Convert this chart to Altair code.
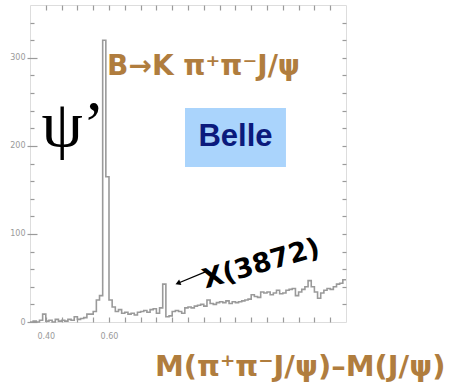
import altair as alt
import pandas as pd

# ---- data -------------------------------------------------------------
BIN_START = 0.35
BIN_WIDTH = 0.01
COUNTS = [0, 1, 0, 2, 9, 1, 2, 0, 3, 1,
          2, 1, 3, 2, 6, 3, 4, 5, 9, 9,
          12, 25, 30, 320, 165, 25, 17, 12, 14, 10,
          11, 9, 10, 8, 11, 12, 13, 11, 14, 15,
          10, 16, 43, 6, 7, 12, 13, 12, 10, 16,
          17, 16, 18, 19, 20, 18, 25, 21, 20, 22,
          23, 22, 24, 21, 23, 22, 23, 24, 25, 26,
          31, 29, 28, 34, 33, 34, 31, 33, 36, 32,
          33, 36, 37, 38, 30, 34, 37, 40, 47, 40,
          34, 27, 33, 36, 38, 37, 40, 43, 44, 48]

X_DOMAIN = [0.35, 1.35]
Y_DOMAIN = [0, 360]
X_TICKS = [0.40, 0.45, 0.50, 0.55, 0.60, 0.65, 0.70, 0.75, 0.80, 0.85,
           0.90, 0.95, 1.00, 1.05, 1.10, 1.15, 1.20, 1.25, 1.30]
X_LABELED = ["0.40", "0.60"]
Y_MAJOR = [0, 100, 200, 300]
Y_MINOR = [20, 40, 60, 80, 120, 140, 160, 180, 220, 240, 260, 280, 320, 340]
Y_MINOR_R = [20, 40, 60, 80, 100, 120, 140, 160, 180, 200, 220, 240, 260, 280, 300, 320, 340]

TITLE_X = "M(π⁺π⁻J/ψ)–M(J/ψ)"
DECAY = "B→K π⁺π⁻J/ψ"
PSI = "ψ’"
BELLE = "Belle"
XLABEL = "X(3872)"

# annotation anchors in data coordinates (ΔM, counts)
BOX_X = [0.8405, 1.160]
BOX_Y = [176, 243]
BELLE_POS = [1.0003, 200]
DECAY_POS = [0.594, 280]
PSI_POS = [0.386, 200]
XLAB_POS = [0.905, 38]
ARROW_FROM = [0.905, 57]
ARROW_TO = [0.818, 44]

edges = [round(BIN_START + i * BIN_WIDTH, 4) for i in range(len(COUNTS) + 1)]
hist = pd.DataFrame({"x": edges, "n": COUNTS + [COUNTS[-1]]})

GRAY = "#9a9a9a"
BROWN = "#b07d3e"

xs = alt.Scale(domain=X_DOMAIN, nice=False, zero=False)
ys = alt.Scale(domain=Y_DOMAIN, nice=False)

label_expr = "indexof(" + str(X_LABELED).replace("'", '"') + ", format(datum.value, '.2f')) >= 0 ? format(datum.value, '.2f') : ''"

main = alt.Chart(hist).mark_line(interpolate="step-after", color=GRAY, strokeWidth=1.6).encode(
    x=alt.X("x:Q", scale=xs, axis=alt.Axis(
        orient="bottom", values=X_TICKS, offset=-5, tickSize=5, domain=False,
        tickColor=GRAY, tickWidth=1.2, labelExpr=label_expr, labelColor=GRAY,
        labelFontSize=8, labelPadding=10, labelFont="DejaVu Sans", grid=False,
        title=TITLE_X, titleFont="DejaVu Sans", titleFontSize=29, titleFontWeight="bold",
        titleColor=BROWN, titleAlign="right", titleAnchor="start", titleX=415, titleY=58,
        titleBaseline="alphabetic")),
    y=alt.Y("n:Q", scale=ys, axis=alt.Axis(
        orient="left", values=Y_MAJOR, offset=-7, tickSize=10, domain=False,
        tickColor=GRAY, tickWidth=1.2, labelColor=GRAY, labelFontSize=8,
        labelPadding=2, labelFont="DejaVu Sans", grid=False, title=None)),
)

minor = alt.Chart(hist).mark_line(strokeOpacity=0).encode(
    x=alt.X("x:Q", scale=xs, axis=alt.Axis(
        orient="top", values=X_TICKS, offset=-5, tickSize=5, domain=False,
        tickColor=GRAY, tickWidth=1.2, labels=False, grid=False, title=None)),
    y=alt.Y("n:Q", scale=ys, axis=alt.Axis(
        orient="left", values=Y_MINOR, offset=-4, tickSize=4, domain=False,
        tickColor=GRAY, tickWidth=1.2, labels=False, grid=False, title=None)),
)

right = alt.Chart(hist).mark_line(strokeOpacity=0).encode(
    x=alt.X("x:Q", scale=xs, axis=None),
    y=alt.Y("n:Q", scale=ys, axis=alt.Axis(
        orient="right", values=Y_MINOR_R, offset=-4, tickSize=4, domain=False,
        tickColor=GRAY, tickWidth=1.2, labels=False, grid=False, title=None)),
)


def txt(pos, text, **kw):
    d = pd.DataFrame({"x": [pos[0]], "y": [pos[1]], "t": [text]})
    return alt.Chart(d).mark_text(**kw).encode(
        x=alt.X("x:Q", scale=xs, axis=None),
        y=alt.Y("y:Q", scale=ys, axis=None),
        text="t:N",
    )


box_df = pd.DataFrame({"x": [BOX_X[0]], "x2": [BOX_X[1]], "y": [BOX_Y[0]], "y2": [BOX_Y[1]]})
box = alt.Chart(box_df).mark_rect(color="#aad4fc").encode(
    x=alt.X("x:Q", scale=xs, axis=None), x2="x2:Q",
    y=alt.Y("y:Q", scale=ys, axis=None), y2="y2:Q",
)

arrow_df = pd.DataFrame({"x": [ARROW_FROM[0]], "x2": [ARROW_TO[0]],
                         "y": [ARROW_FROM[1]], "y2": [ARROW_TO[1]]})
arrow = alt.Chart(arrow_df).mark_rule(color="black", strokeWidth=1.3).encode(
    x=alt.X("x:Q", scale=xs, axis=None), x2="x2:Q",
    y=alt.Y("y:Q", scale=ys, axis=None), y2="y2:Q",
)
head_df = pd.DataFrame({"x": [ARROW_TO[0]], "y": [ARROW_TO[1]]})
head = alt.Chart(head_df).mark_point(shape="triangle-left", filled=True, color="black",
                                     size=35, angle=338, opacity=1).encode(
    x=alt.X("x:Q", scale=xs, axis=None),
    y=alt.Y("y:Q", scale=ys, axis=None),
)

layers = [
    main, minor, right, box,
    txt(BELLE_POS, BELLE, font="Liberation Sans", fontSize=31, fontWeight="bold",
        color="#0b1a7c", align="center", baseline="alphabetic"),
    txt(DECAY_POS, DECAY, font="DejaVu Sans", fontSize=28, fontWeight="bold",
        color=BROWN, align="left", baseline="alphabetic"),
    txt(PSI_POS, PSI, font="Liberation Serif", fontSize=66, color="black",
        align="left", baseline="alphabetic"),
    txt(XLAB_POS, XLABEL, font="DejaVu Sans", fontSize=27, color="black",
        fontWeight="bold", align="left", baseline="alphabetic", angle=344),
    arrow, head,
]

chart = alt.layer(*layers).resolve_axis(x="independent", y="independent").properties(
    width=316, height=317,
    autosize=alt.AutoSizeParams(type="none"),
    padding={"left": 30, "top": 5, "right": 104, "bottom": 67},
).configure_view(stroke=GRAY, strokeWidth=1.5).configure(background="white")

chart.save("out.html", embed_options={"renderer": "svg", "actions": False})
